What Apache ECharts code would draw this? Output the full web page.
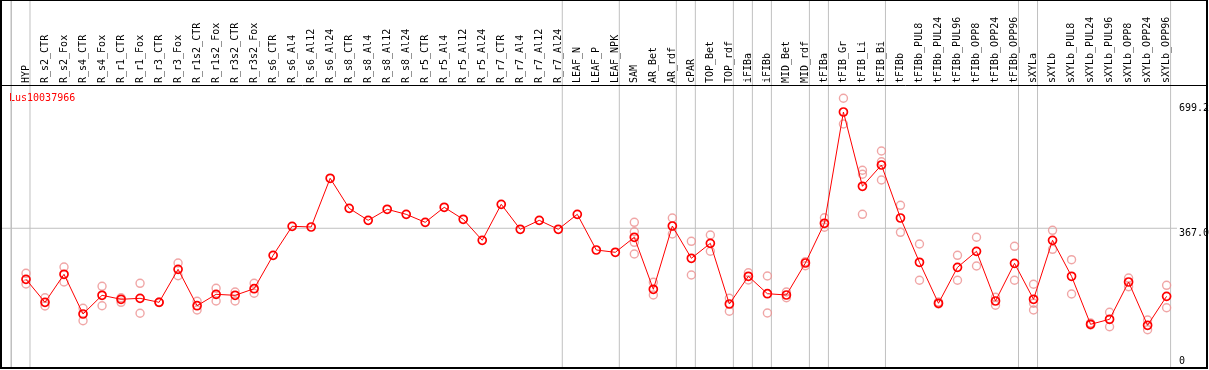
<!DOCTYPE html>
<html>
<head>
<meta charset="utf-8">
<script src="https://cdn.jsdelivr.net/npm/echarts@6/dist/echarts.min.js"></script>
<style>
html,body{margin:0;padding:0;background:#fff;}
#chart{width:1209px;height:370px;}
</style>
</head>
<body>
<div id="chart"></div>
<script>
const geneName = 'Lus10037966';
const categories = ['HYP','R_s2_CTR','R_s2_Fox','R_s4_CTR','R_s4_Fox','R_r1_CTR','R_r1_Fox','R_r3_CTR','R_r3_Fox','R_r1s2_CTR','R_r1s2_Fox','R_r3s2_CTR','R_r3s2_Fox','R_s6_CTR','R_s6_Al4','R_s6_Al12','R_s6_Al24','R_s8_CTR','R_s8_Al4','R_s8_Al12','R_s8_Al24','R_r5_CTR','R_r5_Al4','R_r5_Al12','R_r5_Al24','R_r7_CTR','R_r7_Al4','R_r7_Al12','R_r7_Al24','LEAF_N','LEAF_P','LEAF_NPK','SAM','AR_Bet','AR_rdf','cPAR','TOP_Bet','TOP_rdf','iFIBa','iFIBb','MID_Bet','MID_rdf','tFIBa','tFIB_Gr','tFIB_Li','tFIB_Bi','tFIBb','tFIBb_PUL8','tFIBb_PUL24','tFIBb_PUL96','tFIBb_OPP8','tFIBb_OPP24','tFIBb_OPP96','sXYLa','sXYLb','sXYLb_PUL8','sXYLb_PUL24','sXYLb_PUL96','sXYLb_OPP8','sXYLb_OPP24','sXYLb_OPP96'];
const meanValues = [231.7,170.7,245.0,139.7,189.3,178.7,181.3,170.7,258.2,161.7,191.9,189.3,206.8,295.3,372.2,370.4,499.5,419.9,388.1,417.3,404.0,382.8,422.6,390.8,335.1,430.5,364.3,388.1,364.3,404.0,309.4,303.3,343.1,205.2,373.0,287.4,327.1,166.2,239.7,193.5,190.1,274.9,380.2,675.2,478.3,534.7,394.2,276.8,168.1,263.5,305.9,174.2,274.1,178.7,335.1,239.7,112.4,125.7,224.5,109.8,186.6];
const repA = [247.6,182.9,264.3,154.8,213.1,182.9,221.1,170.7,274.9,173.4,207.8,198.0,221.1,null,null,null,null,null,null,null,null,null,null,null,null,null,null,null,null,null,null,null,382.8,223.8,394.2,332.4,349.3,181.3,249.2,240.5,198.0,278.4,395.0,711.6,520.7,571.9,427.9,325.3,171.5,295.3,343.1,184.0,319.2,218.5,361.6,283.7,115.9,144.2,235.2,123.8,215.8];
const repB = [219.2,160.9,224.5,121.9,161.7,170.7,141.6,170.7,241.3,150.3,174.2,174.2,194.6,null,null,null,null,null,null,null,null,null,null,null,null,null,null,null,null,null,null,null,357.9,190.1,351.8,243.1,306.1,146.9,229.9,142.4,182.9,267.8,369.6,643.4,510.1,543.5,356.3,229.1,166.2,229.1,267.0,162.8,229.1,168.1,311.2,192.7,110.6,106.0,212.1,98.1,156.4];
const repC = [null,null,null,null,null,null,null,null,null,null,null,null,null,null,null,null,null,null,null,null,null,null,null,null,null,null,null,null,null,null,null,null,329.8,null,null,null,null,null,null,null,null,null,null,null,404.0,495.0,null,null,null,null,null,null,null,150.3,null,null,null,null,null,null,null];
const repD = [null,null,null,null,null,null,null,null,null,null,null,null,null,null,null,null,null,null,null,null,null,null,null,null,null,null,null,null,null,null,null,null,298.8,null,null,null,null,null,null,null,null,null,null,null,null,null,null,null,null,null,null,null,null,null,null,null,null,null,null,null,null];
const groupEnds = [-1,0,28,31,34,35,37,38,39,41,42,45,52,53,60];
const yTickLabels = [367.0, 699.2];
const yZeroLabel = [0];
const refLine = 367.0;

const Y_MIN = -6.1, Y_MAX = 972.2;
const X_MIN = -1.315, X_MAX = 60.547;
const FONT = 'DejaVu Sans Mono';
const pairs = arr => arr.map((v,i)=> v==null ? null : [i, v]).filter(d=>d);
const repSeries = [repA, repB, repC, repD].map((arr,k)=>({
  type:'scatter', name:'rep'+k, xAxisIndex:0, yAxisIndex:0,
  data: pairs(arr), symbol:'circle', symbolSize:8, z:2,
  itemStyle:{color:'rgba(0,0,0,0)', borderColor:'#ec9090', borderWidth:1.4},
  silent:true
}));

const sepSeries = groupEnds.map((g,k)=>({
  type:'line', name:'sep'+k, silent:true, z:1, symbol:'none', clip:false,
  data:[[g+0.21, Y_MIN],[g+0.21, Y_MAX]],
  lineStyle:{color:'#c0c0c0', width:1}
}));
const refSeries = {
  type:'line', name:'ref', silent:true, z:1, symbol:'none', clip:false,
  data:[[X_MIN, refLine],[X_MAX, refLine]],
  lineStyle:{color:'#c0c0c0', width:1}
};

const frameGraphics = [
  {type:'rect', shape:{x:1, y:0, width:1206, height:368}, style:{fill:null, stroke:'#000', lineWidth:2}, z:100, silent:true},
  {type:'line', shape:{x1:1, y1:85.5, x2:1207, y2:85.5}, style:{stroke:'#000', lineWidth:1}, z:100, silent:true}
];

const option = {
  animation:false,
  backgroundColor:'#ffffff',
  title:{text:geneName, left:9, top:93, padding:0, textStyle:{fontFamily:FONT, fontSize:10, fontWeight:'normal', color:'#ff0000'}, z:10},
  grid:{left:1, right:32, top:0, bottom:1, containLabel:false, outerBoundsMode:'none'},
  xAxis:[{
    type:'value', min:X_MIN, max:X_MAX, position:'top', offset:-85,
    axisLine:{show:false}, axisTick:{show:false}, splitLine:{show:false},
    axisLabel:{show:true, customValues:categories.map((c,i)=>i), rotate:90, margin:2,
      fontFamily:FONT, fontSize:10, color:'#000',
      formatter:v=>categories[Math.round(v)] || ''}
  }],
  yAxis:[{
    type:'value', min:Y_MIN, max:Y_MAX, position:'right',
    axisLine:{show:false}, axisTick:{show:false}, splitLine:{show:false},
    axisLabel:{customValues:yTickLabels, margin:2, verticalAlign:'top', fontFamily:FONT, fontSize:10, color:'#000',
      formatter:v=>Number(v).toFixed(1)}
  },{
    type:'value', min:Y_MIN, max:Y_MAX, position:'right',
    axisLine:{show:false}, axisTick:{show:false}, splitLine:{show:false},
    axisLabel:{customValues:yZeroLabel, margin:2, verticalAlign:'bottom', fontFamily:FONT, fontSize:10, color:'#000',
      formatter:v=>String(v)}
  }],
  graphic: frameGraphics.slice(),
  series:[
    ...sepSeries,
    refSeries,
    ...repSeries,
    {
      type:'line', name:geneName, data:pairs(meanValues), z:5,
      showAllSymbol:true, symbol:'circle', symbolSize:8,
      lineStyle:{color:'#ff0000', width:1},
      itemStyle:{color:'rgba(0,0,0,0)', borderColor:'#ff0000', borderWidth:1.7},
      silent:true
    }
  ]
};

const chart = echarts.init(document.getElementById('chart'), null, {renderer:'canvas'});
chart.setOption(option);
// overlay the leftmost group separator, positioned through the axis scale
const leftSep = chart.convertToPixel({xAxisIndex:0}, groupEnds[0] + 0.21);
const sx = Math.round(leftSep) + 0.5;
option.graphic = frameGraphics.concat([
  {type:'line', shape:{x1:sx, y1:1, x2:sx, y2:368}, style:{stroke:'#c0c0c0', lineWidth:1}, z:90, silent:true}
]);
chart.setOption(option, true);
</script>
</body>
</html>
